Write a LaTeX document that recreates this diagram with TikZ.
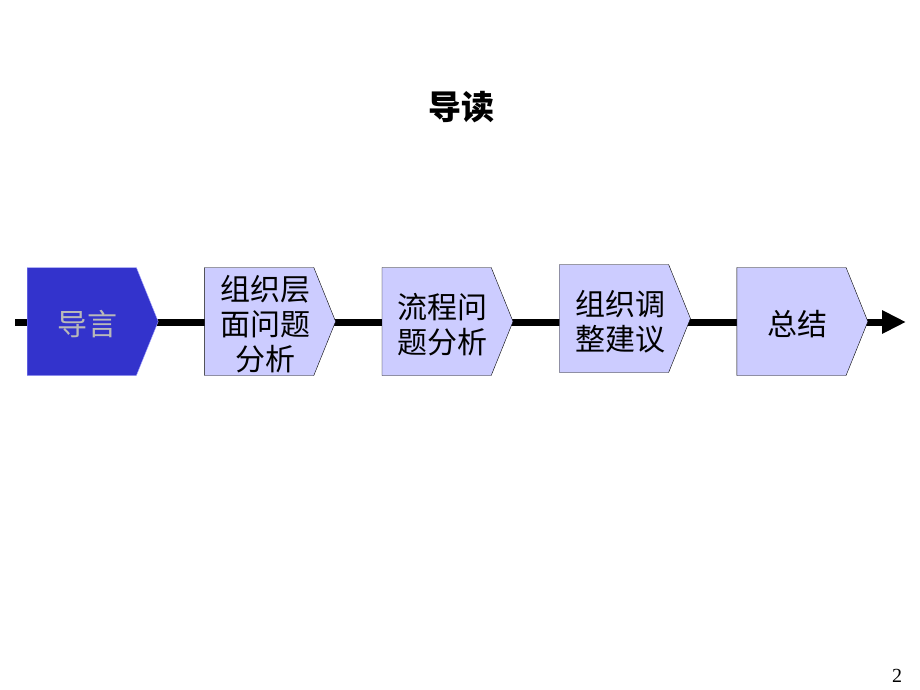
\documentclass[tikz,border=0pt]{standalone}
\usepackage{fontspec}
\setmainfont{Liberation Serif}
\newfontfamily\cjk{Noto Sans CJK SC}
\usetikzlibrary{arrows.meta}
\usetikzlibrary{positioning}
\usetikzlibrary{shapes.symbols}
\tikzset{stage/.style = {signal, signal to=east, signal pointer angle=136, draw, fill=mlav,
    minimum width=131, minimum height=108, inner sep=0,
    font=\cjk\fontsize{30}{34}\selectfont}}
\tikzset{current/.style = {stage, fill=mblue, draw=medge, text=mgray}}
\newcommand{\stagetext}[1]{\hspace*{12pt}\raisebox{-13pt}[0pt][0pt]{\begin{tabular}{@{}c@{}}#1\end{tabular}}}
\definecolor{mlav}{RGB}{204, 204, 255}
\definecolor{mblue}{RGB}{51, 51, 204}
\definecolor{medge}{RGB}{170, 170, 255}
\definecolor{mgray}{RGB}{185, 185, 185}

\begin{document}
\begin{tikzpicture}[x=1pt, y=-1pt]
    \useasboundingbox (0, 0) rectangle (920, 690);
    \node [font=\cjk\bfseries\fontsize{33}{38}\selectfont] (title) at (461, 107) {导读};

    \coordinate (start) at (15, 322);
    \coordinate (end) at (906, 322);
    \draw [line width=7pt, -{Triangle[length=24pt, width=22pt]}] (start) -- (end);

    \node [current, anchor=west] (s1) at (27, 321.5) {\stagetext{导言}};
    \node [stage, right=46pt of s1] (s2) {\stagetext{组织层\\面问题\\分析}};
    \node [stage, right=46pt of s2] (s3) {\stagetext{流程问\\题分析}};
    \node [stage, right=46pt of s3, yshift=3pt] (s4) {\stagetext{组织调\\整建议}};
    \node [stage, right=46pt of s4, yshift=-3pt] (s5) {\stagetext{总结}};

    \node [font=\fontsize{20}{24}\selectfont] (page) at (897, 676) {2};
  \end{tikzpicture}
\end{document}
